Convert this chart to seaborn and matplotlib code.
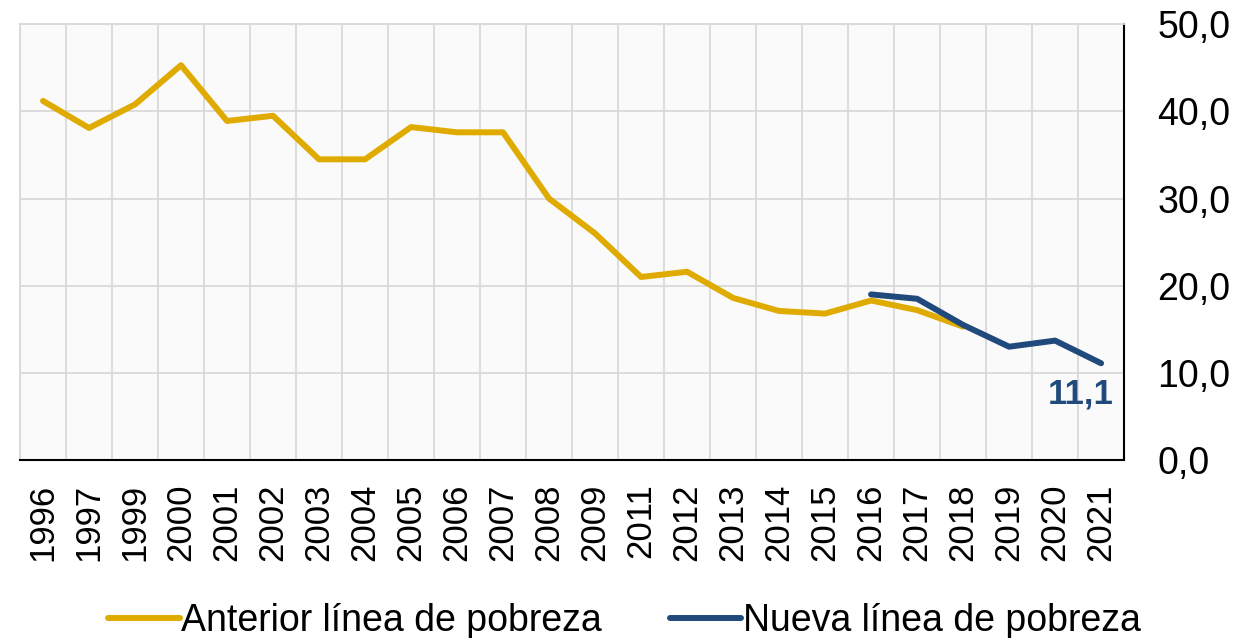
"""
Poverty rate: previous vs new poverty line (1996-2021).
"""

import numpy as np
import pandas as pd
import matplotlib.pyplot as plt
import matplotlib.ticker as mticker
import seaborn as sns

# Data
years = ['1996', '1997', '1999', '2000', '2001', '2002', '2003', '2004',
         '2005', '2006', '2007', '2008', '2009', '2011', '2012', '2013',
         '2014', '2015', '2016', '2017', '2018', '2019', '2020', '2021']
anterior = [41.2, 38.1, 40.8, 45.3, 38.9, 39.5, 34.5, 34.5,
            38.2, 37.6, 37.6, 30.0, 26.0, 21.0, 21.6, 18.6,
            17.1, 16.8, 18.3, 17.2, 15.3, np.nan, np.nan, np.nan]
nueva = [np.nan] * 18 + [19.0, 18.5, 15.5, 13.0, 13.7, 11.1]
series_names = ['Anterior línea de pobreza', 'Nueva línea de pobreza']
last_label = '11,1'

GOLD = '#DFAB00'
BLUE = '#214A7C'

sns.set_style('white')
plt.rcParams['font.family'] = ['Liberation Sans', 'DejaVu Sans']
plt.rcParams['text.color'] = 'black'
plt.rcParams['xtick.color'] = 'black'
plt.rcParams['ytick.color'] = 'black'

df = pd.DataFrame({'Año': years, series_names[0]: anterior, series_names[1]: nueva})
long_df = df.melt(id_vars='Año', var_name='Serie', value_name='Valor').dropna()

fig, ax = plt.subplots(figsize=(12.49, 6.38), dpi=100)
fig.subplots_adjust(left=0.016, right=0.900, top=0.962, bottom=0.279)
ax.set_facecolor('#FAFAFA')

sns.lineplot(data=long_df, x='Año', y='Valor', hue='Serie',
             palette=[GOLD, BLUE], linewidth=4.3, sort=False, ax=ax,
             legend=False)

n = len(years)
ax.set_xlim(-0.5, n - 0.5)
ax.set_ylim(0, 50)
ax.set_xticks(range(n))
ax.set_xticklabels(years, rotation=90, fontsize=25)
ax.xaxis.set_minor_locator(mticker.FixedLocator(np.arange(-0.5, n, 1.0)))
ax.set_yticks(np.arange(0, 51, 10))
ax.yaxis.set_major_formatter(mticker.FuncFormatter(lambda v, _: f'{v:.1f}'.replace('.', ',')))
ax.yaxis.tick_right()
ax.tick_params(axis='y', length=0, pad=24, labelsize=27)
ax.tick_params(axis='x', which='both', length=0, pad=17)
for lbl in ax.get_yticklabels():
    lbl.set_horizontalalignment('left')

ax.grid(True, axis='y', which='major', color='#D9D9D9', linewidth=1.3)
ax.grid(True, axis='x', which='minor', color='#D9D9D9', linewidth=1.3)
ax.grid(False, axis='x', which='major')
ax.set_axisbelow(True)

ax.set_xlabel('')
ax.set_ylabel('')
for side in ['top', 'left']:
    ax.spines[side].set_color('#D9D9D9')
    ax.spines[side].set_linewidth(1.3)
for side in ['bottom', 'right']:
    ax.spines[side].set_color('black')
    ax.spines[side].set_linewidth(1.5)

# Label on the last point
ax.annotate(last_label, xy=(years[-1], nueva[-1]), xytext=(-15, -22),
            textcoords='offset points', ha='center', va='center',
            fontsize=25, fontweight='bold', color=BLUE)

# Legend
handles = [plt.Line2D([], [], color=GOLD, linewidth=4.3),
           plt.Line2D([], [], color=BLUE, linewidth=4.3)]
fig.legend(handles, series_names, loc='lower center', bbox_to_anchor=(0.5, -0.055),
           ncol=2, frameon=False, fontsize=27, handlelength=1.9,
           handletextpad=0.05, columnspacing=1.8)

fig.savefig('out.png', dpi=100)
